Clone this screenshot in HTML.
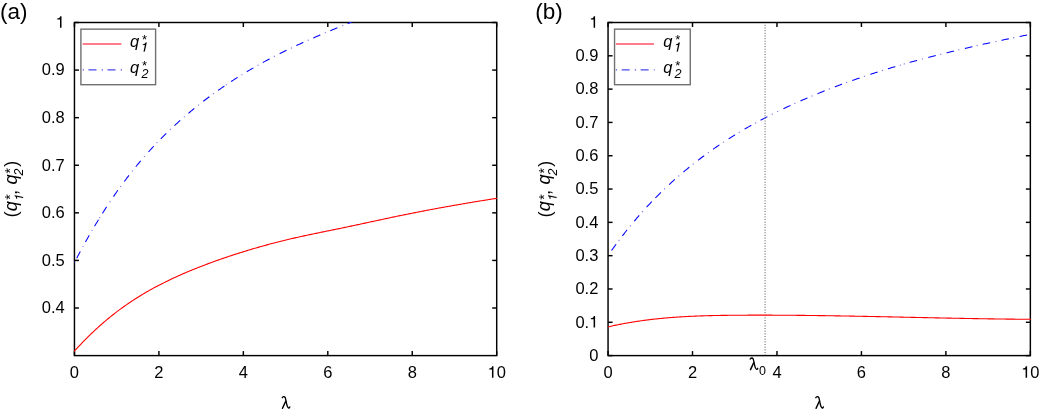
<!DOCTYPE html>
<html><head><meta charset="utf-8"><style>
html,body{margin:0;padding:0;background:#fff;}
svg{display:block;will-change:transform;}
text{fill:#000;}
</style></head><body>
<svg width="1040" height="414" viewBox="0 0 1040 414" font-family='"Liberation Sans", sans-serif' font-size="16.5">
<rect width="1040" height="414" fill="#fff"/>
<clipPath id="clip74"><rect x="73.85000000000001" y="21.9" width="423.45" height="334.3"/></clipPath>

<rect x="74.45" y="22.5" width="422.25" height="333.1" fill="none" stroke="#000" stroke-width="1.45"/>
<line x1="74.45" y1="355.6" x2="74.45" y2="351.1" stroke="#000" stroke-width="1.45"/>
<line x1="74.45" y1="22.5" x2="74.45" y2="27.0" stroke="#000" stroke-width="1.45"/>
<line x1="158.90" y1="355.6" x2="158.90" y2="351.1" stroke="#000" stroke-width="1.45"/>
<line x1="158.90" y1="22.5" x2="158.90" y2="27.0" stroke="#000" stroke-width="1.45"/>
<line x1="243.35" y1="355.6" x2="243.35" y2="351.1" stroke="#000" stroke-width="1.45"/>
<line x1="243.35" y1="22.5" x2="243.35" y2="27.0" stroke="#000" stroke-width="1.45"/>
<line x1="327.80" y1="355.6" x2="327.80" y2="351.1" stroke="#000" stroke-width="1.45"/>
<line x1="327.80" y1="22.5" x2="327.80" y2="27.0" stroke="#000" stroke-width="1.45"/>
<line x1="412.25" y1="355.6" x2="412.25" y2="351.1" stroke="#000" stroke-width="1.45"/>
<line x1="412.25" y1="22.5" x2="412.25" y2="27.0" stroke="#000" stroke-width="1.45"/>
<line x1="496.70" y1="355.6" x2="496.70" y2="351.1" stroke="#000" stroke-width="1.45"/>
<line x1="496.70" y1="22.5" x2="496.70" y2="27.0" stroke="#000" stroke-width="1.45"/>
<line x1="74.45" y1="308.01" x2="78.95" y2="308.01" stroke="#000" stroke-width="1.45"/>
<line x1="496.7" y1="308.01" x2="492.2" y2="308.01" stroke="#000" stroke-width="1.45"/>
<line x1="74.45" y1="260.43" x2="78.95" y2="260.43" stroke="#000" stroke-width="1.45"/>
<line x1="496.7" y1="260.43" x2="492.2" y2="260.43" stroke="#000" stroke-width="1.45"/>
<line x1="74.45" y1="212.84" x2="78.95" y2="212.84" stroke="#000" stroke-width="1.45"/>
<line x1="496.7" y1="212.84" x2="492.2" y2="212.84" stroke="#000" stroke-width="1.45"/>
<line x1="74.45" y1="165.26" x2="78.95" y2="165.26" stroke="#000" stroke-width="1.45"/>
<line x1="496.7" y1="165.26" x2="492.2" y2="165.26" stroke="#000" stroke-width="1.45"/>
<line x1="74.45" y1="117.67" x2="78.95" y2="117.67" stroke="#000" stroke-width="1.45"/>
<line x1="496.7" y1="117.67" x2="492.2" y2="117.67" stroke="#000" stroke-width="1.45"/>
<line x1="74.45" y1="70.09" x2="78.95" y2="70.09" stroke="#000" stroke-width="1.45"/>
<line x1="496.7" y1="70.09" x2="492.2" y2="70.09" stroke="#000" stroke-width="1.45"/>
<line x1="74.45" y1="22.50" x2="78.95" y2="22.50" stroke="#000" stroke-width="1.45"/>
<line x1="496.7" y1="22.50" x2="492.2" y2="22.50" stroke="#000" stroke-width="1.45"/>
<path d="M74.00,351.58 L75.00,350.47 L76.00,349.37 L77.00,348.28 L78.00,347.20 L79.00,346.12 L80.00,345.06 L81.00,344.01 L82.00,342.96 L83.00,341.92 L84.00,340.90 L85.00,339.88 L86.00,338.87 L87.00,337.87 L88.00,336.88 L89.00,335.89 L90.00,334.92 L91.00,333.95 L92.00,333.00 L93.00,332.05 L94.00,331.11 L95.00,330.17 L96.00,329.25 L97.00,328.34 L98.00,327.43 L99.00,326.53 L100.00,325.64 L101.00,324.75 L102.00,323.88 L103.00,323.01 L104.00,322.15 L105.00,321.30 L106.00,320.45 L107.00,319.62 L108.00,318.79 L109.00,317.97 L110.00,317.15 L111.00,316.35 L112.00,315.55 L113.00,314.76 L114.00,313.97 L115.00,313.19 L116.00,312.42 L117.00,311.66 L118.00,310.91 L119.00,310.16 L120.00,309.41 L121.00,308.68 L122.00,307.95 L123.00,307.23 L124.00,306.51 L125.00,305.81 L126.00,305.10 L127.00,304.41 L128.00,303.72 L129.00,303.04 L130.00,302.36 L131.00,301.69 L132.00,301.02 L133.00,300.37 L134.00,299.71 L135.00,299.07 L136.00,298.43 L137.00,297.79 L138.00,297.17 L139.00,296.54 L140.00,295.93 L141.00,295.31 L142.00,294.71 L143.00,294.11 L144.00,293.51 L145.00,292.92 L146.00,292.34 L147.00,291.76 L148.00,291.18 L149.00,290.61 L150.00,290.05 L151.00,289.49 L152.00,288.93 L153.00,288.38 L154.00,287.84 L155.00,287.30 L156.00,286.76 L157.00,286.23 L158.00,285.70 L159.00,285.18 L160.00,284.66 L161.00,284.15 L162.00,283.64 L163.00,283.14 L164.00,282.63 L165.00,282.14 L166.00,281.64 L167.00,281.15 L168.00,280.67 L169.00,280.19 L170.00,279.71 L171.00,279.24 L172.00,278.77 L173.00,278.30 L174.00,277.84 L175.00,277.38 L176.00,276.92 L177.00,276.47 L178.00,276.02 L179.00,275.57 L180.00,275.13 L181.00,274.69 L182.00,274.25 L183.00,273.81 L184.00,273.38 L185.00,272.95 L186.00,272.53 L187.00,272.10 L188.00,271.68 L189.00,271.26 L190.00,270.85 L191.00,270.43 L192.00,270.02 L193.00,269.61 L194.00,269.21 L195.00,268.80 L196.00,268.40 L197.00,268.00 L198.00,267.61 L199.00,267.21 L200.00,266.82 L201.00,266.43 L202.00,266.04 L203.00,265.66 L204.00,265.27 L205.00,264.89 L206.00,264.51 L207.00,264.13 L208.00,263.76 L209.00,263.39 L210.00,263.02 L211.00,262.65 L212.00,262.28 L213.00,261.92 L214.00,261.55 L215.00,261.19 L216.00,260.84 L217.00,260.48 L218.00,260.13 L219.00,259.77 L220.00,259.42 L221.00,259.07 L222.00,258.73 L223.00,258.38 L224.00,258.04 L225.00,257.70 L226.00,257.36 L227.00,257.02 L228.00,256.69 L229.00,256.35 L230.00,256.02 L231.00,255.69 L232.00,255.36 L233.00,255.04 L234.00,254.71 L235.00,254.39 L236.00,254.07 L237.00,253.75 L238.00,253.43 L239.00,253.11 L240.00,252.80 L241.00,252.48 L242.00,252.17 L243.00,251.86 L244.00,251.55 L245.00,251.24 L246.00,250.94 L247.00,250.63 L248.00,250.33 L249.00,250.03 L250.00,249.73 L251.00,249.43 L252.00,249.14 L253.00,248.84 L254.00,248.55 L255.00,248.26 L256.00,247.97 L257.00,247.68 L258.00,247.39 L259.00,247.11 L260.00,246.82 L261.00,246.54 L262.00,246.26 L263.00,245.98 L264.00,245.70 L265.00,245.43 L266.00,245.15 L267.00,244.88 L268.00,244.61 L269.00,244.34 L270.00,244.07 L271.00,243.81 L272.00,243.54 L273.00,243.28 L274.00,243.02 L275.00,242.76 L276.00,242.50 L277.00,242.24 L278.00,241.98 L279.00,241.73 L280.00,241.48 L281.00,241.23 L282.00,240.98 L283.00,240.73 L284.00,240.48 L285.00,240.24 L286.00,240.00 L287.00,239.75 L288.00,239.51 L289.00,239.28 L290.00,239.04 L291.00,238.80 L292.00,238.57 L293.00,238.34 L294.00,238.11 L295.00,237.88 L296.00,237.65 L297.00,237.42 L298.00,237.20 L299.00,236.98 L300.00,236.75 L301.00,236.53 L302.00,236.31 L303.00,236.09 L304.00,235.88 L305.00,235.66 L306.00,235.45 L307.00,235.23 L308.00,235.02 L309.00,234.80 L310.00,234.59 L311.00,234.38 L312.00,234.17 L313.00,233.96 L314.00,233.75 L315.00,233.55 L316.00,233.34 L317.00,233.13 L318.00,232.92 L319.00,232.72 L320.00,232.51 L321.00,232.31 L322.00,232.10 L323.00,231.90 L324.00,231.69 L325.00,231.49 L326.00,231.29 L327.00,231.08 L328.00,230.88 L329.00,230.67 L330.00,230.47 L331.00,230.27 L332.00,230.06 L333.00,229.86 L334.00,229.66 L335.00,229.45 L336.00,229.25 L337.00,229.04 L338.00,228.84 L339.00,228.63 L340.00,228.43 L341.00,228.22 L342.00,228.01 L343.00,227.81 L344.00,227.60 L345.00,227.39 L346.00,227.18 L347.00,226.97 L348.00,226.76 L349.00,226.55 L350.00,226.34 L351.00,226.13 L352.00,225.91 L353.00,225.70 L354.00,225.49 L355.00,225.27 L356.00,225.06 L357.00,224.85 L358.00,224.63 L359.00,224.42 L360.00,224.20 L361.00,223.99 L362.00,223.77 L363.00,223.56 L364.00,223.34 L365.00,223.13 L366.00,222.91 L367.00,222.69 L368.00,222.48 L369.00,222.26 L370.00,222.04 L371.00,221.83 L372.00,221.61 L373.00,221.40 L374.00,221.18 L375.00,220.96 L376.00,220.75 L377.00,220.53 L378.00,220.32 L379.00,220.10 L380.00,219.89 L381.00,219.67 L382.00,219.46 L383.00,219.24 L384.00,219.03 L385.00,218.81 L386.00,218.60 L387.00,218.39 L388.00,218.18 L389.00,217.96 L390.00,217.75 L391.00,217.54 L392.00,217.33 L393.00,217.12 L394.00,216.91 L395.00,216.70 L396.00,216.49 L397.00,216.28 L398.00,216.08 L399.00,215.87 L400.00,215.66 L401.00,215.46 L402.00,215.25 L403.00,215.05 L404.00,214.84 L405.00,214.64 L406.00,214.44 L407.00,214.24 L408.00,214.04 L409.00,213.84 L410.00,213.63 L411.00,213.44 L412.00,213.24 L413.00,213.04 L414.00,212.84 L415.00,212.64 L416.00,212.45 L417.00,212.25 L418.00,212.06 L419.00,211.86 L420.00,211.67 L421.00,211.47 L422.00,211.28 L423.00,211.09 L424.00,210.89 L425.00,210.70 L426.00,210.51 L427.00,210.32 L428.00,210.13 L429.00,209.94 L430.00,209.75 L431.00,209.57 L432.00,209.38 L433.00,209.19 L434.00,209.01 L435.00,208.82 L436.00,208.63 L437.00,208.45 L438.00,208.27 L439.00,208.08 L440.00,207.90 L441.00,207.72 L442.00,207.53 L443.00,207.35 L444.00,207.17 L445.00,206.99 L446.00,206.81 L447.00,206.63 L448.00,206.45 L449.00,206.27 L450.00,206.10 L451.00,205.92 L452.00,205.74 L453.00,205.57 L454.00,205.39 L455.00,205.21 L456.00,205.04 L457.00,204.87 L458.00,204.69 L459.00,204.52 L460.00,204.35 L461.00,204.17 L462.00,204.00 L463.00,203.83 L464.00,203.66 L465.00,203.49 L466.00,203.32 L467.00,203.15 L468.00,202.98 L469.00,202.81 L470.00,202.65 L471.00,202.48 L472.00,202.31 L473.00,202.14 L474.00,201.98 L475.00,201.81 L476.00,201.65 L477.00,201.48 L478.00,201.32 L479.00,201.16 L480.00,200.99 L481.00,200.83 L482.00,200.67 L483.00,200.51 L484.00,200.34 L485.00,200.18 L486.00,200.02 L487.00,199.86 L488.00,199.70 L489.00,199.54 L490.00,199.39 L491.00,199.23 L492.00,199.07 L493.00,198.91 L494.00,198.76 L495.00,198.60 L496.00,198.44 L497.00,198.29" fill="none" stroke="#ff0000" stroke-width="1.1" clip-path="url(#clip74)"/>
<path d="M76.74,258.26 L77.00,257.76 L78.00,255.85 L79.00,253.96 L80.00,252.08 L80.34,251.45 M85.45,242.08 L86.00,241.09 L87.00,239.30 L88.00,237.53 L89.00,235.77 L89.23,235.38 M94.55,226.25 L95.00,225.50 L96.00,223.83 L97.00,222.17 L98.00,220.53 L98.53,219.66 M102.46,213.35 L103.00,212.49 L104.00,210.92 L105.00,209.36 L106.00,207.82 L106.62,206.87 M113.47,196.63 L114.00,195.86 L115.00,194.41 L116.00,192.98 L117.00,191.56 L117.88,190.32 M124.28,181.53 L125.00,180.57 L126.00,179.24 L127.00,177.92 L128.00,176.62 L128.94,175.40 M135.79,166.77 L136.00,166.51 L137.00,165.29 L138.00,164.08 L139.00,162.88 L140.00,161.69 L140.71,160.85 M148.50,151.91 L149.00,151.36 L150.00,150.25 L151.00,149.15 L152.00,148.07 L153.00,146.99 L153.70,146.23 M160.81,138.82 L161.00,138.62 L162.00,137.61 L163.00,136.61 L164.00,135.61 L165.00,134.62 L166.00,133.64 L166.26,133.38 M174.52,125.54 L175.00,125.10 L176.00,124.18 L177.00,123.28 L178.00,122.37 L179.00,121.47 L180.00,120.58 L180.23,120.38 M188.43,113.29 L189.00,112.81 L190.00,111.98 L191.00,111.15 L192.00,110.32 L193.00,109.50 L194.00,108.68 L194.36,108.39 M203.24,101.37 L204.00,100.78 L205.00,100.02 L206.00,99.26 L207.00,98.50 L208.00,97.75 L209.00,97.00 L209.38,96.72 M218.04,90.44 L219.00,89.77 L220.00,89.07 L221.00,88.37 L222.00,87.68 L223.00,86.99 L224.00,86.31 L224.37,86.05 M231.15,81.53 L232.00,80.97 L233.00,80.32 L234.00,79.68 L235.00,79.04 L236.00,78.40 L237.00,77.76 L237.63,77.37 M246.76,71.76 L247.00,71.61 L248.00,71.02 L249.00,70.42 L250.00,69.83 L251.00,69.25 L252.00,68.66 L253.00,68.08 L253.39,67.85 M262.86,62.53 L263.00,62.45 L264.00,61.90 L265.00,61.36 L266.00,60.82 L267.00,60.28 L268.00,59.75 L269.00,59.21 L269.64,58.87 M279.67,53.69 L280.00,53.53 L281.00,53.03 L282.00,52.53 L283.00,52.03 L284.00,51.53 L285.00,51.04 L286.00,50.55 L286.57,50.27 M296.37,45.60 L297.00,45.30 L298.00,44.84 L299.00,44.38 L300.00,43.92 L301.00,43.46 L302.00,43.00 L303.00,42.54 L303.37,42.38 M313.27,37.96 L314.00,37.65 L315.00,37.21 L316.00,36.78 L317.00,36.34 L318.00,35.91 L319.00,35.48 L320.00,35.05 L320.34,34.91 M330.28,30.72 L331.00,30.42 L332.00,30.00 L333.00,29.59 L334.00,29.18 L335.00,28.76 L336.00,28.35 L337.00,27.94 L337.40,27.78 M347.68,23.61 L348.00,23.48 L349.00,23.08 L350.00,22.68 L351.00,22.28 L352.00,21.88 L353.00,21.48 L354.00,21.08 L354.83,20.75" fill="none" stroke="#0000ff" stroke-width="1.05" clip-path="url(#clip74)"/>
<path d="M74.33,262.93 L74.87,261.86 M82.71,247.05 L83.00,246.52 L83.29,246.00 M91.70,231.10 L92.00,230.58 L92.30,230.06 M99.48,218.11 L100.00,217.28 L100.12,217.09 M109.67,202.25 L110.00,201.75 L110.33,201.25 M120.25,187.02 L120.95,186.04 M132.03,171.45 L132.77,170.51 M144.01,157.00 L144.79,156.10 M156.59,143.18 L157.00,142.74 L157.42,142.31 M169.96,129.81 L170.00,129.78 L170.84,128.98 M183.85,117.21 L184.00,117.07 L184.75,116.42 M198.03,105.44 L198.97,104.70 M213.01,94.05 L213.99,93.34 M225.80,85.08 L226.00,84.95 L226.80,84.41 M241.39,75.02 L242.00,74.64 L242.41,74.39 M257.58,65.47 L258.00,65.23 L258.62,64.88 M273.87,56.66 L274.00,56.59 L274.93,56.11 M290.86,48.20 L291.00,48.13 L291.94,47.69 M307.75,40.40 L308.00,40.29 L308.85,39.92 M324.75,33.03 L325.00,32.93 L325.85,32.57 M342.14,25.85 L343.00,25.50 L343.26,25.40" fill="none" stroke="#2020e0" stroke-opacity="0.6" stroke-width="1.1" clip-path="url(#clip74)"/>
<text x="64.75" y="313.31" text-anchor="end">0.4</text>
<text x="64.75" y="265.73" text-anchor="end">0.5</text>
<text x="64.75" y="218.14" text-anchor="end">0.6</text>
<text x="64.75" y="170.56" text-anchor="end">0.7</text>
<text x="64.75" y="122.97" text-anchor="end">0.8</text>
<text x="64.75" y="75.39" text-anchor="end">0.9</text>
<path d="M359,0 L268,0 L268,503 L101,503 L101,568 C198,574 260,600 283,703 L359,703 Z" transform="translate(55.58,27.80) scale(0.01650,-0.01650)" fill="#000"/>
<clipPath id="clip608"><rect x="607.4499999999999" y="21.9" width="423.49999999999994" height="334.3"/></clipPath>
<line x1="765.1" y1="24.8" x2="765.1" y2="355.6" stroke="#555" stroke-width="1" stroke-dasharray="1 1.66"/>
<rect x="608.05" y="22.5" width="422.29999999999995" height="333.1" fill="none" stroke="#000" stroke-width="1.45"/>
<line x1="608.05" y1="355.6" x2="608.05" y2="351.1" stroke="#000" stroke-width="1.45"/>
<line x1="608.05" y1="22.5" x2="608.05" y2="27.0" stroke="#000" stroke-width="1.45"/>
<line x1="692.51" y1="355.6" x2="692.51" y2="351.1" stroke="#000" stroke-width="1.45"/>
<line x1="692.51" y1="22.5" x2="692.51" y2="27.0" stroke="#000" stroke-width="1.45"/>
<line x1="776.97" y1="355.6" x2="776.97" y2="351.1" stroke="#000" stroke-width="1.45"/>
<line x1="776.97" y1="22.5" x2="776.97" y2="27.0" stroke="#000" stroke-width="1.45"/>
<line x1="861.43" y1="355.6" x2="861.43" y2="351.1" stroke="#000" stroke-width="1.45"/>
<line x1="861.43" y1="22.5" x2="861.43" y2="27.0" stroke="#000" stroke-width="1.45"/>
<line x1="945.89" y1="355.6" x2="945.89" y2="351.1" stroke="#000" stroke-width="1.45"/>
<line x1="945.89" y1="22.5" x2="945.89" y2="27.0" stroke="#000" stroke-width="1.45"/>
<line x1="1030.35" y1="355.6" x2="1030.35" y2="351.1" stroke="#000" stroke-width="1.45"/>
<line x1="1030.35" y1="22.5" x2="1030.35" y2="27.0" stroke="#000" stroke-width="1.45"/>
<line x1="608.05" y1="355.60" x2="612.55" y2="355.60" stroke="#000" stroke-width="1.45"/>
<line x1="1030.35" y1="355.60" x2="1025.85" y2="355.60" stroke="#000" stroke-width="1.45"/>
<line x1="608.05" y1="322.29" x2="612.55" y2="322.29" stroke="#000" stroke-width="1.45"/>
<line x1="1030.35" y1="322.29" x2="1025.85" y2="322.29" stroke="#000" stroke-width="1.45"/>
<line x1="608.05" y1="288.98" x2="612.55" y2="288.98" stroke="#000" stroke-width="1.45"/>
<line x1="1030.35" y1="288.98" x2="1025.85" y2="288.98" stroke="#000" stroke-width="1.45"/>
<line x1="608.05" y1="255.67" x2="612.55" y2="255.67" stroke="#000" stroke-width="1.45"/>
<line x1="1030.35" y1="255.67" x2="1025.85" y2="255.67" stroke="#000" stroke-width="1.45"/>
<line x1="608.05" y1="222.36" x2="612.55" y2="222.36" stroke="#000" stroke-width="1.45"/>
<line x1="1030.35" y1="222.36" x2="1025.85" y2="222.36" stroke="#000" stroke-width="1.45"/>
<line x1="608.05" y1="189.05" x2="612.55" y2="189.05" stroke="#000" stroke-width="1.45"/>
<line x1="1030.35" y1="189.05" x2="1025.85" y2="189.05" stroke="#000" stroke-width="1.45"/>
<line x1="608.05" y1="155.74" x2="612.55" y2="155.74" stroke="#000" stroke-width="1.45"/>
<line x1="1030.35" y1="155.74" x2="1025.85" y2="155.74" stroke="#000" stroke-width="1.45"/>
<line x1="608.05" y1="122.43" x2="612.55" y2="122.43" stroke="#000" stroke-width="1.45"/>
<line x1="1030.35" y1="122.43" x2="1025.85" y2="122.43" stroke="#000" stroke-width="1.45"/>
<line x1="608.05" y1="89.12" x2="612.55" y2="89.12" stroke="#000" stroke-width="1.45"/>
<line x1="1030.35" y1="89.12" x2="1025.85" y2="89.12" stroke="#000" stroke-width="1.45"/>
<line x1="608.05" y1="55.81" x2="612.55" y2="55.81" stroke="#000" stroke-width="1.45"/>
<line x1="1030.35" y1="55.81" x2="1025.85" y2="55.81" stroke="#000" stroke-width="1.45"/>
<line x1="608.05" y1="22.50" x2="612.55" y2="22.50" stroke="#000" stroke-width="1.45"/>
<line x1="1030.35" y1="22.50" x2="1025.85" y2="22.50" stroke="#000" stroke-width="1.45"/>
<path d="M608.00,326.90 L609.00,326.67 L610.00,326.44 L611.00,326.22 L612.00,326.00 L613.00,325.78 L614.00,325.57 L615.00,325.35 L616.00,325.14 L617.00,324.94 L618.00,324.73 L619.00,324.53 L620.00,324.34 L621.00,324.14 L622.00,323.95 L623.00,323.76 L624.00,323.57 L625.00,323.39 L626.00,323.21 L627.00,323.03 L628.00,322.85 L629.00,322.68 L630.00,322.51 L631.00,322.34 L632.00,322.18 L633.00,322.02 L634.00,321.86 L635.00,321.70 L636.00,321.54 L637.00,321.39 L638.00,321.24 L639.00,321.09 L640.00,320.95 L641.00,320.81 L642.00,320.67 L643.00,320.53 L644.00,320.39 L645.00,320.26 L646.00,320.13 L647.00,320.00 L648.00,319.88 L649.00,319.75 L650.00,319.63 L651.00,319.51 L652.00,319.39 L653.00,319.28 L654.00,319.17 L655.00,319.06 L656.00,318.95 L657.00,318.84 L658.00,318.74 L659.00,318.63 L660.00,318.53 L661.00,318.44 L662.00,318.34 L663.00,318.24 L664.00,318.15 L665.00,318.06 L666.00,317.97 L667.00,317.89 L668.00,317.80 L669.00,317.72 L670.00,317.64 L671.00,317.56 L672.00,317.48 L673.00,317.40 L674.00,317.33 L675.00,317.26 L676.00,317.19 L677.00,317.12 L678.00,317.05 L679.00,316.98 L680.00,316.92 L681.00,316.86 L682.00,316.80 L683.00,316.74 L684.00,316.68 L685.00,316.62 L686.00,316.57 L687.00,316.51 L688.00,316.46 L689.00,316.41 L690.00,316.36 L691.00,316.31 L692.00,316.27 L693.00,316.22 L694.00,316.18 L695.00,316.13 L696.00,316.09 L697.00,316.05 L698.00,316.01 L699.00,315.98 L700.00,315.94 L701.00,315.90 L702.00,315.87 L703.00,315.84 L704.00,315.81 L705.00,315.77 L706.00,315.74 L707.00,315.72 L708.00,315.69 L709.00,315.66 L710.00,315.64 L711.00,315.61 L712.00,315.59 L713.00,315.56 L714.00,315.54 L715.00,315.52 L716.00,315.50 L717.00,315.48 L718.00,315.46 L719.00,315.44 L720.00,315.43 L721.00,315.41 L722.00,315.39 L723.00,315.38 L724.00,315.36 L725.00,315.35 L726.00,315.34 L727.00,315.33 L728.00,315.31 L729.00,315.30 L730.00,315.29 L731.00,315.28 L732.00,315.27 L733.00,315.26 L734.00,315.25 L735.00,315.25 L736.00,315.24 L737.00,315.23 L738.00,315.22 L739.00,315.22 L740.00,315.21 L741.00,315.21 L742.00,315.20 L743.00,315.19 L744.00,315.19 L745.00,315.18 L746.00,315.18 L747.00,315.18 L748.00,315.17 L749.00,315.17 L750.00,315.17 L751.00,315.16 L752.00,315.16 L753.00,315.16 L754.00,315.16 L755.00,315.16 L756.00,315.15 L757.00,315.15 L758.00,315.15 L759.00,315.15 L760.00,315.15 L761.00,315.15 L762.00,315.15 L763.00,315.15 L764.00,315.15 L765.00,315.16 L766.00,315.16 L767.00,315.16 L768.00,315.16 L769.00,315.16 L770.00,315.17 L771.00,315.17 L772.00,315.17 L773.00,315.18 L774.00,315.18 L775.00,315.18 L776.00,315.19 L777.00,315.19 L778.00,315.20 L779.00,315.20 L780.00,315.21 L781.00,315.21 L782.00,315.22 L783.00,315.22 L784.00,315.23 L785.00,315.24 L786.00,315.24 L787.00,315.25 L788.00,315.26 L789.00,315.27 L790.00,315.27 L791.00,315.28 L792.00,315.29 L793.00,315.30 L794.00,315.31 L795.00,315.32 L796.00,315.32 L797.00,315.33 L798.00,315.34 L799.00,315.35 L800.00,315.36 L801.00,315.37 L802.00,315.38 L803.00,315.39 L804.00,315.40 L805.00,315.42 L806.00,315.43 L807.00,315.44 L808.00,315.45 L809.00,315.46 L810.00,315.47 L811.00,315.49 L812.00,315.50 L813.00,315.51 L814.00,315.52 L815.00,315.54 L816.00,315.55 L817.00,315.56 L818.00,315.58 L819.00,315.59 L820.00,315.60 L821.00,315.62 L822.00,315.63 L823.00,315.64 L824.00,315.66 L825.00,315.67 L826.00,315.69 L827.00,315.70 L828.00,315.72 L829.00,315.73 L830.00,315.75 L831.00,315.76 L832.00,315.78 L833.00,315.80 L834.00,315.81 L835.00,315.83 L836.00,315.84 L837.00,315.86 L838.00,315.88 L839.00,315.89 L840.00,315.91 L841.00,315.93 L842.00,315.94 L843.00,315.96 L844.00,315.98 L845.00,316.00 L846.00,316.01 L847.00,316.03 L848.00,316.05 L849.00,316.07 L850.00,316.09 L851.00,316.10 L852.00,316.12 L853.00,316.14 L854.00,316.16 L855.00,316.18 L856.00,316.20 L857.00,316.22 L858.00,316.23 L859.00,316.25 L860.00,316.27 L861.00,316.29 L862.00,316.31 L863.00,316.33 L864.00,316.35 L865.00,316.37 L866.00,316.39 L867.00,316.41 L868.00,316.43 L869.00,316.45 L870.00,316.47 L871.00,316.49 L872.00,316.51 L873.00,316.53 L874.00,316.55 L875.00,316.57 L876.00,316.59 L877.00,316.61 L878.00,316.63 L879.00,316.65 L880.00,316.67 L881.00,316.69 L882.00,316.71 L883.00,316.73 L884.00,316.75 L885.00,316.78 L886.00,316.80 L887.00,316.82 L888.00,316.84 L889.00,316.86 L890.00,316.88 L891.00,316.90 L892.00,316.92 L893.00,316.94 L894.00,316.97 L895.00,316.99 L896.00,317.01 L897.00,317.03 L898.00,317.05 L899.00,317.07 L900.00,317.09 L901.00,317.12 L902.00,317.14 L903.00,317.16 L904.00,317.18 L905.00,317.20 L906.00,317.22 L907.00,317.24 L908.00,317.27 L909.00,317.29 L910.00,317.31 L911.00,317.33 L912.00,317.35 L913.00,317.37 L914.00,317.39 L915.00,317.42 L916.00,317.44 L917.00,317.46 L918.00,317.48 L919.00,317.50 L920.00,317.52 L921.00,317.54 L922.00,317.57 L923.00,317.59 L924.00,317.61 L925.00,317.63 L926.00,317.65 L927.00,317.67 L928.00,317.69 L929.00,317.71 L930.00,317.73 L931.00,317.76 L932.00,317.78 L933.00,317.80 L934.00,317.82 L935.00,317.84 L936.00,317.86 L937.00,317.88 L938.00,317.90 L939.00,317.92 L940.00,317.94 L941.00,317.96 L942.00,317.98 L943.00,318.00 L944.00,318.03 L945.00,318.05 L946.00,318.07 L947.00,318.09 L948.00,318.11 L949.00,318.13 L950.00,318.15 L951.00,318.17 L952.00,318.19 L953.00,318.20 L954.00,318.22 L955.00,318.24 L956.00,318.26 L957.00,318.28 L958.00,318.30 L959.00,318.32 L960.00,318.34 L961.00,318.36 L962.00,318.38 L963.00,318.40 L964.00,318.42 L965.00,318.43 L966.00,318.45 L967.00,318.47 L968.00,318.49 L969.00,318.51 L970.00,318.52 L971.00,318.54 L972.00,318.56 L973.00,318.58 L974.00,318.60 L975.00,318.61 L976.00,318.63 L977.00,318.65 L978.00,318.66 L979.00,318.68 L980.00,318.70 L981.00,318.71 L982.00,318.73 L983.00,318.75 L984.00,318.76 L985.00,318.78 L986.00,318.79 L987.00,318.81 L988.00,318.83 L989.00,318.84 L990.00,318.86 L991.00,318.87 L992.00,318.89 L993.00,318.90 L994.00,318.92 L995.00,318.93 L996.00,318.94 L997.00,318.96 L998.00,318.97 L999.00,318.99 L1000.00,319.00 L1001.00,319.01 L1002.00,319.03 L1003.00,319.04 L1004.00,319.05 L1005.00,319.07 L1006.00,319.08 L1007.00,319.09 L1008.00,319.10 L1009.00,319.11 L1010.00,319.13 L1011.00,319.14 L1012.00,319.15 L1013.00,319.16 L1014.00,319.17 L1015.00,319.18 L1016.00,319.19 L1017.00,319.20 L1018.00,319.21 L1019.00,319.22 L1020.00,319.23 L1021.00,319.24 L1022.00,319.25 L1023.00,319.26 L1024.00,319.27 L1025.00,319.28 L1026.00,319.29 L1027.00,319.29 L1028.00,319.30 L1029.00,319.31 L1030.00,319.32 L1031.00,319.32" fill="none" stroke="#ff0000" stroke-width="1.1" clip-path="url(#clip608)"/>
<path d="M611.57,250.49 L612.00,249.89 L613.00,248.50 L614.00,247.12 L615.00,245.74 L616.00,244.38 L616.09,244.26 M622.38,235.91 L623.00,235.11 L624.00,233.83 L625.00,232.55 L626.00,231.29 L627.00,230.03 L627.14,229.86 M634.19,221.25 L635.00,220.30 L636.00,219.12 L637.00,217.95 L638.00,216.79 L639.00,215.64 L639.21,215.41 M646.60,207.16 L647.00,206.73 L648.00,205.65 L649.00,204.58 L650.00,203.52 L651.00,202.47 L651.88,201.55 M655.41,197.91 L656.00,197.31 L657.00,196.30 L658.00,195.30 L659.00,194.30 L660.00,193.31 L660.86,192.47 M669.12,184.61 L670.00,183.80 L671.00,182.88 L672.00,181.98 L673.00,181.07 L674.00,180.18 L674.83,179.44 M683.43,172.01 L684.00,171.53 L685.00,170.70 L686.00,169.87 L687.00,169.05 L688.00,168.23 L689.00,167.41 L689.37,167.11 M698.04,160.29 L699.00,159.55 L700.00,158.79 L701.00,158.04 L702.00,157.29 L703.00,156.54 L704.00,155.80 L704.19,155.66 M713.05,149.28 L714.00,148.62 L715.00,147.92 L716.00,147.23 L717.00,146.54 L718.00,145.86 L719.00,145.18 L719.39,144.92 M728.55,138.90 L729.00,138.62 L730.00,137.98 L731.00,137.35 L732.00,136.72 L733.00,136.10 L734.00,135.48 L735.00,134.86 L735.08,134.81 M744.56,129.14 L745.00,128.88 L746.00,128.30 L747.00,127.73 L748.00,127.16 L749.00,126.59 L750.00,126.02 L751.00,125.46 L751.24,125.32 M760.56,120.23 L761.00,120.00 L762.00,119.47 L763.00,118.94 L764.00,118.41 L765.00,117.89 L766.00,117.37 L767.00,116.86 L767.39,116.66 M783.47,108.72 L784.00,108.47 L785.00,108.00 L786.00,107.53 L787.00,107.06 L788.00,106.60 L789.00,106.13 L790.00,105.67 L790.45,105.47 M800.47,100.96 L801.00,100.73 L802.00,100.29 L803.00,99.85 L804.00,99.42 L805.00,98.99 L806.00,98.55 L807.00,98.13 L807.54,97.90 M817.48,93.74 L818.00,93.52 L819.00,93.12 L820.00,92.71 L821.00,92.31 L822.00,91.90 L823.00,91.50 L824.00,91.10 L824.62,90.86 M834.88,86.87 L835.00,86.82 L836.00,86.45 L837.00,86.07 L838.00,85.69 L839.00,85.32 L840.00,84.94 L841.00,84.57 L842.00,84.20 L842.09,84.17 M852.28,80.49 L853.00,80.24 L854.00,79.89 L855.00,79.54 L856.00,79.19 L857.00,78.84 L858.00,78.50 L859.00,78.15 L859.56,77.96 M870.29,74.37 L871.00,74.13 L872.00,73.81 L873.00,73.48 L874.00,73.16 L875.00,72.84 L876.00,72.52 L877.00,72.20 L877.61,72.00 M887.89,68.80 L888.00,68.77 L889.00,68.47 L890.00,68.16 L891.00,67.86 L892.00,67.56 L893.00,67.26 L894.00,66.96 L895.00,66.67 L895.26,66.59 M909.69,62.44 L910.00,62.35 L911.00,62.07 L912.00,61.79 L913.00,61.52 L914.00,61.24 L915.00,60.97 L916.00,60.69 L917.00,60.42 L917.11,60.39 M928.29,57.41 L929.00,57.22 L930.00,56.96 L931.00,56.70 L932.00,56.44 L933.00,56.19 L934.00,55.93 L935.00,55.68 L935.75,55.49 M946.59,52.77 L947.00,52.67 L948.00,52.43 L949.00,52.19 L950.00,51.94 L951.00,51.70 L952.00,51.46 L953.00,51.22 L954.00,50.98 L954.07,50.96 M964.89,48.41 L965.00,48.38 L966.00,48.15 L967.00,47.92 L968.00,47.69 L969.00,47.46 L970.00,47.23 L971.00,47.00 L972.00,46.77 L972.40,46.68 M982.69,44.37 L983.00,44.31 L984.00,44.09 L985.00,43.86 L986.00,43.64 L987.00,43.43 L988.00,43.21 L989.00,42.99 L990.00,42.77 L990.21,42.72 M1001.39,40.32 L1002.00,40.19 L1003.00,39.98 L1004.00,39.76 L1005.00,39.55 L1006.00,39.34 L1007.00,39.13 L1008.00,38.92 L1008.93,38.73 M1019.59,36.50 L1020.00,36.42 L1021.00,36.21 L1022.00,36.01 L1023.00,35.80 L1024.00,35.59 L1025.00,35.39 L1026.00,35.18 L1027.00,34.98 L1027.14,34.95" fill="none" stroke="#0000ff" stroke-width="1.05" clip-path="url(#clip608)"/>
<path d="M618.64,240.83 L619.00,240.35 L619.36,239.87 M630.02,226.29 L630.78,225.36 M642.10,212.13 L642.90,211.23 M664.17,189.27 L665.00,188.47 L665.03,188.44 M678.35,176.35 L679.00,175.78 L679.25,175.56 M692.73,164.43 L693.00,164.21 L693.67,163.68 M707.91,152.93 L708.00,152.87 L708.89,152.23 M723.00,142.51 L723.00,142.51 L724.00,141.85 L724.00,141.85 M738.69,132.62 L739.00,132.43 L739.71,132.00 M755.07,123.20 L756.00,122.69 L756.13,122.62 M771.76,114.44 L772.00,114.32 L772.84,113.90 M777.16,111.76 L778.00,111.35 L778.24,111.24 M794.25,103.73 L795.00,103.40 L795.35,103.24 M811.45,96.24 L812.00,96.01 L812.55,95.78 M828.84,89.20 L829.00,89.13 L829.96,88.76 M846.04,82.73 L847.00,82.38 L847.16,82.32 M863.83,76.51 L864.00,76.45 L864.97,76.13 M881.93,70.64 L882.00,70.62 L883.00,70.31 L883.07,70.29 M899.82,65.25 L900.00,65.20 L900.98,64.92 M903.72,64.13 L904.00,64.05 L904.88,63.80 M921.82,59.12 L922.00,59.07 L922.98,58.81 M940.12,54.38 L941.00,54.16 L941.28,54.09 M958.12,50.00 L959.00,49.79 L959.28,49.72 M976.61,45.73 L977.00,45.64 L977.79,45.47 M995.31,41.62 L996.00,41.47 L996.49,41.37 M1013.11,37.85 L1014.00,37.66 L1014.29,37.60" fill="none" stroke="#2020e0" stroke-opacity="0.6" stroke-width="1.1" clip-path="url(#clip608)"/>
<text x="598.35" y="360.90" text-anchor="end">0</text>
<path d="M359,0 L268,0 L268,503 L101,503 L101,568 C198,574 260,600 283,703 L359,703 Z" transform="translate(589.18,327.59) scale(0.01650,-0.01650)" fill="#000"/>
<text x="589.18" y="327.59" text-anchor="end">0.</text>
<text x="598.35" y="294.28" text-anchor="end">0.2</text>
<text x="598.35" y="260.97" text-anchor="end">0.3</text>
<text x="598.35" y="227.66" text-anchor="end">0.4</text>
<text x="598.35" y="194.35" text-anchor="end">0.5</text>
<text x="598.35" y="161.04" text-anchor="end">0.6</text>
<text x="598.35" y="127.73" text-anchor="end">0.7</text>
<text x="598.35" y="94.42" text-anchor="end">0.8</text>
<text x="598.35" y="61.11" text-anchor="end">0.9</text>
<path d="M359,0 L268,0 L268,503 L101,503 L101,568 C198,574 260,600 283,703 L359,703 Z" transform="translate(589.18,27.80) scale(0.01650,-0.01650)" fill="#000"/>
<text x="74.45" y="377.8" text-anchor="middle">0</text>
<text x="158.90" y="377.8" text-anchor="middle">2</text>
<text x="243.35" y="377.8" text-anchor="middle">4</text>
<text x="327.80" y="377.8" text-anchor="middle">6</text>
<text x="412.25" y="377.8" text-anchor="middle">8</text>
<path d="M359,0 L268,0 L268,503 L101,503 L101,568 C198,574 260,600 283,703 L359,703 Z" transform="translate(487.53,377.80) scale(0.01650,-0.01650)" fill="#000"/>
<text x="496.70" y="377.8">0</text>
<text x="608.05" y="377.8" text-anchor="middle">0</text>
<text x="692.51" y="377.8" text-anchor="middle">2</text>
<text x="776.97" y="377.8" text-anchor="middle">4</text>
<text x="861.43" y="377.8" text-anchor="middle">6</text>
<text x="945.89" y="377.8" text-anchor="middle">8</text>
<path d="M359,0 L268,0 L268,503 L101,503 L101,568 C198,574 260,600 283,703 L359,703 Z" transform="translate(1021.18,377.80) scale(0.01650,-0.01650)" fill="#000"/>
<text x="1030.35" y="377.8">0</text>
<rect x="80.9" y="29.15" width="74.7" height="55.55" fill="#fff" stroke="#707070" stroke-width="1.4"/>
<line x1="82.7" y1="43.95" x2="121.4" y2="43.95" stroke="#ff5066" stroke-width="1.4"/>
<line x1="82.7" y1="69.9" x2="122.2" y2="69.9" stroke="#4a4af0" stroke-width="1.3" stroke-dasharray="1.2 4.6 8 5.2" stroke-dashoffset="0"/>
<text x="130.10000000000002" y="47.2" font-style="italic">q</text>
<text x="142.10000000000002" y="44.400000000000006" font-size="13">*</text>
<path d="M359,0 L268,0 L268,503 L101,503 L101,568 C198,574 260,600 283,703 L359,703 Z" transform="translate(140.10,51.60) skewX(-12) scale(0.01300,-0.01300)" fill="#000" stroke="#000" stroke-width="10" stroke-linejoin="round"/>
<text x="130.10000000000002" y="73.19999999999999" font-style="italic">q</text>
<text x="142.10000000000002" y="70.39999999999999" font-size="13">*</text>
<text x="141.50000000000003" y="77.6" font-size="12.6" font-style="italic">2</text>
<rect x="614.55" y="29.15" width="75.7" height="55.55" fill="#fff" stroke="#707070" stroke-width="1.4"/>
<line x1="615.8499999999999" y1="43.95" x2="653.9" y2="43.95" stroke="#ff5066" stroke-width="1.4"/>
<line x1="615.8499999999999" y1="69.9" x2="654.6999999999999" y2="69.9" stroke="#4a4af0" stroke-width="1.3" stroke-dasharray="1.2 4.6 8 5.2" stroke-dashoffset="0"/>
<text x="663.1999999999999" y="47.2" font-style="italic">q</text>
<text x="675.1999999999999" y="44.400000000000006" font-size="13">*</text>
<path d="M359,0 L268,0 L268,503 L101,503 L101,568 C198,574 260,600 283,703 L359,703 Z" transform="translate(673.20,51.60) skewX(-12) scale(0.01300,-0.01300)" fill="#000" stroke="#000" stroke-width="10" stroke-linejoin="round"/>
<text x="663.1999999999999" y="73.19999999999999" font-style="italic">q</text>
<text x="675.1999999999999" y="70.39999999999999" font-size="13">*</text>
<text x="674.5999999999999" y="77.6" font-size="12.6" font-style="italic">2</text>
<g transform="translate(17.5,188.8) rotate(-90)"><text x="-28.4" y="-0.3" font-size="17.5">(</text><text x="-22.4" y="-0.5" font-size="18" font-style="italic">q</text><text x="-10.9" y="-2.3" font-size="14">*</text><path d="M359,0 L268,0 L268,503 L101,503 L101,568 C198,574 260,600 283,703 L359,703 Z" transform="translate(-12.50,5.60) skewX(-12) scale(0.01200,-0.01200)" fill="#000" stroke="#000" stroke-width="10" stroke-linejoin="round"/><text x="-6.3" y="-0.5" font-size="18">,</text><text x="4.2" y="-0.5" font-size="18" font-style="italic">q</text><text x="15.3" y="-2.3" font-size="14">*</text><text x="13.2" y="5.9" font-size="12.5" font-style="italic">2</text><text x="22.1" y="-0.3" font-size="17.5">)</text></g>
<g transform="translate(550.9,188.8) rotate(-90)"><text x="-28.4" y="-0.3" font-size="17.5">(</text><text x="-22.4" y="-0.5" font-size="18" font-style="italic">q</text><text x="-10.9" y="-2.3" font-size="14">*</text><path d="M359,0 L268,0 L268,503 L101,503 L101,568 C198,574 260,600 283,703 L359,703 Z" transform="translate(-12.50,5.60) skewX(-12) scale(0.01200,-0.01200)" fill="#000" stroke="#000" stroke-width="10" stroke-linejoin="round"/><text x="-6.3" y="-0.5" font-size="18">,</text><text x="4.2" y="-0.5" font-size="18" font-style="italic">q</text><text x="15.3" y="-2.3" font-size="14">*</text><text x="13.2" y="5.9" font-size="12.5" font-style="italic">2</text><text x="22.1" y="-0.3" font-size="17.5">)</text></g>
<text x="0.0" y="18.7" font-size="22.5">(a)</text>
<text x="535.3" y="18.7" font-size="22.5">(b)</text>
<g transform="translate(0,0)" fill="none" stroke="#000" stroke-linecap="round"><path d="M282.2,397.7 C282.7,396.5 284.5,396.1 285.2,397.6 C285.9,399.4 286.2,402.9 287.1,405.7 C287.8,407.8 289.3,408.9 289.8,406.9" stroke-width="1.35"/><path d="M285.7,401.3 L282.5,408.2" stroke-width="1.5"/></g>
<g transform="translate(533.6,0)" fill="none" stroke="#000" stroke-linecap="round"><path d="M282.2,397.7 C282.7,396.5 284.5,396.1 285.2,397.6 C285.9,399.4 286.2,402.9 287.1,405.7 C287.8,407.8 289.3,408.9 289.8,406.9" stroke-width="1.35"/><path d="M285.7,401.3 L282.5,408.2" stroke-width="1.5"/></g>
<g transform="translate(468,-38.6)" fill="none" stroke="#000" stroke-linecap="round"><path d="M282.2,397.7 C282.7,396.5 284.5,396.1 285.2,397.6 C285.9,399.4 286.2,402.9 287.1,405.7 C287.8,407.8 289.3,408.9 289.8,406.9" stroke-width="1.35"/><path d="M285.7,401.3 L282.5,408.2" stroke-width="1.5"/></g>
<text x="758.9" y="375" font-size="12.5">0</text>
</svg>
</body></html>
